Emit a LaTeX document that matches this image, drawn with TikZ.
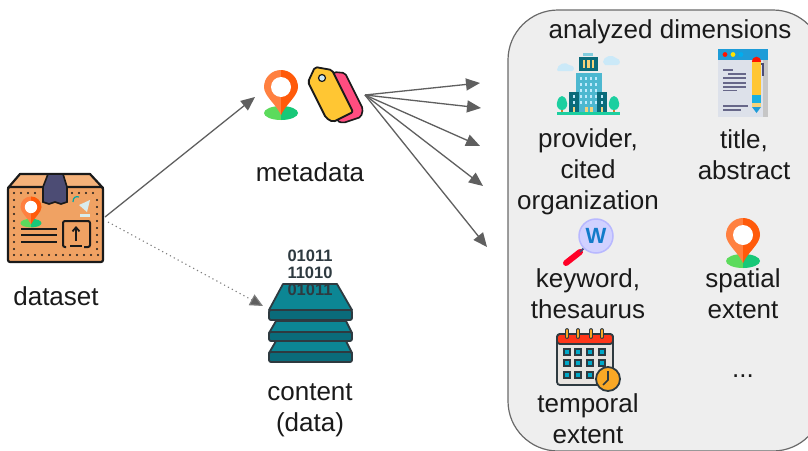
\documentclass[tikz,border=0pt]{standalone}
\usepackage{fontspec}
\setmainfont{Liberation Sans}
\usetikzlibrary{arrows.meta}
\definecolor{panelfill}{HTML}{EEEEEE}
\definecolor{panelline}{HTML}{6A6A6A}
\definecolor{conn}{HTML}{5F5F5F}
\definecolor{ink}{HTML}{1A1A1A}
\definecolor{boxbody}{HTML}{F0A263}
\definecolor{boxlid}{HTML}{F5B27A}
\definecolor{tapec}{HTML}{4C4C74}
\definecolor{pinL}{HTML}{FF8040}
\definecolor{pinR}{HTML}{FF5A0A}
\definecolor{gndL}{HTML}{5CDB5C}
\definecolor{gndR}{HTML}{18C878}
\definecolor{tealT}{HTML}{0C8694}
\definecolor{tealB}{HTML}{0A6B7A}
\definecolor{stackline}{HTML}{2E3A40}
\definecolor{tagY}{HTML}{FFC633}
\definecolor{tagP}{HTML}{FF4D80}
\definecolor{towerC}{HTML}{4DB8D0}
\definecolor{cloudC}{HTML}{CBE9F8}
\definecolor{treeC}{HTML}{1CCFA0}
\definecolor{winY}{HTML}{F5D27A}
\definecolor{calSq}{HTML}{00A8C8}
\definecolor{calB}{HTML}{E8E4E0}
\definecolor{clockC}{HTML}{F9A825}
\definecolor{pageC}{HTML}{DDE1EA}
\definecolor{headC}{HTML}{1E9CD8}
\tikzset{
  x=1pt,y=-1pt,
  lbl/.style={font=\fontsize{26}{31}\selectfont,text=ink,align=center,inner sep=0pt},
  arrowline/.style={draw=conn,line width=1.3pt,-{Triangle[length=14pt,width=12pt,fill=conn]}},
  dotline/.style={draw=conn!80,line width=1.1pt,dash pattern=on 1.2pt off 3.2pt,-{Triangle[length=13pt,width=12pt,fill=conn]}},
  stacklayer/.style={fill=tealT,draw=stackline,line width=1.8pt,line join=round},
  stackband/.style={fill=tealB,draw=stackline,line width=1.8pt,rounded corners=2pt},
  boxedge/.style={draw=ink,line width=2.2pt,line join=round},
  pageline/.style={draw=tapec!85,line width=1.7pt},
  pics/pin/.style={code={
    \fill[gndL] (0,19) arc[start angle=270,end angle=90,x radius=17,y radius=7] -- cycle;
    \fill[gndR] (0,19) arc[start angle=270,end angle=450,x radius=17,y radius=7] -- cycle;
    \fill[pinL] (0,28) .. controls (-5,17) and (-17,9) .. (-17,0) arc[start angle=180,end angle=270,radius=17] -- cycle;
    \fill[pinR] (0,28) .. controls (5,17) and (17,9) .. (17,0) arc[start angle=0,end angle=-90,radius=17] -- cycle;
    \fill[white] (0,0) circle[radius=10];
  }},
}
\begin{document}
\begin{tikzpicture}
\useasboundingbox (0,0) rectangle (808,450);
\fill[white] (0,0) rectangle (808,450);

% panel
\path[fill=panelfill,draw=panelline,line width=1.2pt,rounded corners=50pt] (508,10) rectangle (823,451);

% dataset box
\begin{scope}
  \path[boxedge,fill=boxlid] (8,188) -- (20,174) -- (90,174) -- (103,188) -- cycle;
  \path[boxedge,fill=boxbody,rounded corners=2pt] (8,187) rectangle (103,262);
  \path[fill=tapec,draw=ink,line width=1.6pt] (48,174) -- (63,174) -- (67,187) -- (67,202) -- (61,204) -- (55,202) -- (49,204) -- (43,202) -- (43,187) -- cycle;
  \foreach \px in {14,21,...,98} {\fill[ink] (\px,255) circle[radius=1.2];}
  \foreach \px in {14,21,28,35} {\fill[ink] (\px,193) circle[radius=1.2];}
  \foreach \px in {72,79,86,93} {\fill[ink] (\px,193) circle[radius=1.2];}
  \foreach \py in {200,207,...,250} {\fill[ink] (14,\py) circle[radius=1.2]; \fill[ink] (97,\py) circle[radius=1.2];}
  \pic[scale=.62] at (31,207) {pin};
  \foreach \py in {229,235,242} {\draw[ink,line width=1.6pt] (21,\py) -- (57,\py);}
  \draw[ink,line width=2pt,rounded corners=2pt] (66,247) -- (63,247) -- (63,221) -- (90,221) -- (90,247) -- (84,247);
  \draw[ink,line width=1.8pt,-{Straight Barb[length=4pt,width=7pt]}] (76,241) -- (76,226);
  \draw[ink,line width=1.6pt] (70,246) -- (82,246);
  \fill[white!85!teal] (79,205) -- (90,200) -- (87,212) -- cycle;
  \fill[white!85!teal] (80,214) rectangle (90,217);
  \draw[teal!70!cyan,line width=1.2pt] (73,202) .. controls (73,197) and (76,196) .. (79,197);
\end{scope}

% metadata pin and tags
\pic at (281,87) {pin};
\path[fill=tagP,draw=ink,line width=1.6pt,line join=round,rounded corners=2pt] (334,72) -- (345,73) -- (363,109) -- (361,117) -- (343,123) -- (337,121) -- cycle;
\path[fill=tagY,draw=ink,line width=1.8pt,line join=round,rounded corners=2pt] (308,82) -- (315,67) -- (332,70) -- (353,112) -- (333,122) -- (326,118) -- cycle;
\fill[cloudC,draw=ink,line width=1.2pt] (322,78) circle[radius=3.5];

% data stack
\path[stacklayer] (276,321) -- (346,321) -- (352,333) -- (269,333) -- cycle;
\path[stackband] (269,332) rectangle (352,341);
\path[stacklayer] (276,341) -- (346,341) -- (352,353) -- (269,353) -- cycle;
\path[stackband] (269,352) rectangle (352,362);
\path[stacklayer] (283,284) -- (337,284) -- (352,310) -- (269,310) -- cycle;
\path[stackband] (269,310) rectangle (352,320);
\node[font=\bfseries\fontsize{16.5}{17}\selectfont,text=stackline,align=center,inner sep=0pt] (bits) at (310,272.5) {01011\\11010\\01011};

% building
\fill[cloudC] (557,70) .. controls (557,64) and (566,61) .. (569,65) .. controls (575,65) and (575,71) .. (572,71) -- (558,71) -- cycle;
\fill[cloudC] (603,62) .. controls (603,56) and (613,54) .. (616,58) .. controls (621,59) and (621,65) .. (617,65) -- (605,65) -- cycle;
\fill[towerC!70!white] (583,53) rectangle (593,55.5);
\fill[tealB] (579,57) rectangle (598,71);
\foreach \wx in {584,588.5,593} {\fill[winY] (\wx-1.2,60) rectangle (\wx+1.2,68);}
\fill[towerC] (576,73) rectangle (602,112);
\foreach \wy in {78,84,90,96,102} {\foreach \wx in {581,586,591,596} {\fill[white!75!cyan] (\wx-1.2,\wy-1.5) rectangle (\wx+1.2,\wy+1.5);}}
\fill[tealB] (569,92) rectangle (579,112);
\fill[tealB] (597,92) rectangle (607,112);
\foreach \wy in {96,102} {\fill[white!75!cyan] (573,\wy-1.5) rectangle (575,\wy+1.5); \fill[white!75!cyan] (601,\wy-1.5) rectangle (603,\wy+1.5);}
\fill[winY] (573,107) rectangle (575,112);
\fill[winY] (601,107) rectangle (603,112);
\fill[winY] (585,107) rectangle (588,112);
\fill[winY] (590,107) rectangle (593,112);
\fill[brown!70!orange] (561,108) rectangle (563,113);
\fill[brown!70!orange] (613,108) rectangle (615,113);
\fill[treeC] (562,96) .. controls (569,98) and (569,110) .. (562,110) .. controls (555,110) and (555,98) .. (562,96) -- cycle;
\fill[treeC] (614,96) .. controls (621,98) and (621,110) .. (614,110) .. controls (607,110) and (607,98) .. (614,96) -- cycle;
\fill[treeC] (557,112) rectangle (620,114.5);

% title page
\fill[pageC] (718,49) rectangle (768,117);
\fill[gray!45!white] (763,60) rectangle (768,117);
\fill[headC] (718,49) rectangle (768,60);
\fill[red!85!orange] (725,54.5) circle[radius=2.4];
\fill[yellow!85!orange] (733,54.5) circle[radius=2.4];
\fill[cyan] (741,54.5) circle[radius=2.4];
\draw[pageline] (723,70) -- (733,70);
\draw[pageline] (728,74) -- (746,74);
\draw[pageline] (723,78) -- (746,78);
\draw[pageline] (723,83) -- (746,83);
\draw[pageline] (723,87) -- (746,87);
\draw[pageline] (723,90.5) -- (737,90.5);
\draw[pageline] (723,106) -- (748,106);
\draw[pageline] (723,110) -- (741,110);
\draw[tapec,line width=1.4pt] (752,64) -- (763,64) -- (763,76);
\fill[red!85!orange] (752,62) .. controls (752,55) and (761,55) .. (761,62) -- cycle;
\fill[tagY] (752,62) rectangle (761,95);
\fill[headC!80!cyan] (752,95) rectangle (761,103);
\fill[winY] (752,103) rectangle (761,107);
\fill[headC] (752,107) -- (761,107) -- (756.5,113) -- cycle;

% magnifier
\draw[line width=6pt,red!85!magenta,line cap=round] (566,263) -- (580,252);
\draw[line width=2pt,tapec] (580,252) -- (584,248);
\fill[blue!18!white,draw=blue!28!white,line width=1.5pt] (596,236) circle[radius=17];
\node[font=\bfseries\fontsize{22}{22}\selectfont,text=cyan!60!blue,inner sep=0pt] (wmark) at (596,236) {W};

% spatial pin
\pic at (743,235) {pin};

% calendar
\path[fill=calB,draw=stackline,line width=1.8pt,rounded corners=3pt] (557,334) rectangle (613,385);
\path[fill=red!75!orange!90!white,draw=stackline,line width=1.8pt,rounded corners=3pt] (557,334) rectangle (613,344);
\foreach \rx in {567,578,591,602} {\draw[stackline,line width=3.8pt,line cap=round] (\rx,330) -- (\rx,337); \draw[clockC,line width=2pt,line cap=round] (\rx,330) -- (\rx,337);}
\foreach \ry in {352,363,375} {\foreach \rx in {567,578,590,602} {\path[fill=calSq,draw=stackline,line width=1.6pt] (\rx-3.2,\ry-3.2) rectangle (\rx+3.2,\ry+3.2);}}
\path[fill=clockC,draw=stackline,line width=1.8pt] (608,379) circle[radius=12];
\draw[stackline,line width=1.6pt] (608,371) -- (608,380) -- (603,385);

% labels
\node[lbl] (dataset) at (56,296) {dataset};
\node[lbl] (metadata) at (310,172) {metadata};
\node[lbl] (content) at (310,410) {content\\(data)};
\node[lbl] (dims) at (670,32) {analyzed dimensions};
\node[lbl] (provider) at (588,172) {provider,\\cited\\organization};
\node[lbl] (title) at (744,155) {title,\\abstract};
\node[lbl] (keyword) at (588,294) {keyword,\\thesaurus};
\node[lbl] (spatial) at (743,294) {spatial\\extent};
\node[lbl] (temporal) at (588,419) {temporal\\extent};
\node[lbl] (more) at (743,376) {...};

% connector ends
\coordinate (dsA) at (105,217);
\coordinate (dsB) at (108,222);
\coordinate (metaIn) at (255,97);
\coordinate (contentIn) at (263,306);
\coordinate (metaOut) at (365,95);
\coordinate (d1) at (480,83);
\coordinate (d2) at (481,108);
\coordinate (d3) at (480,146);
\coordinate (d4) at (483,186);
\coordinate (d5) at (487,247);

\draw[arrowline] (dsA) -- (metaIn);
\draw[dotline] (dsB) -- (contentIn);
\foreach \t in {d1,d2,d3,d4,d5} {\draw[arrowline] (metaOut) -- (\t);}
\end{tikzpicture}
\end{document}
